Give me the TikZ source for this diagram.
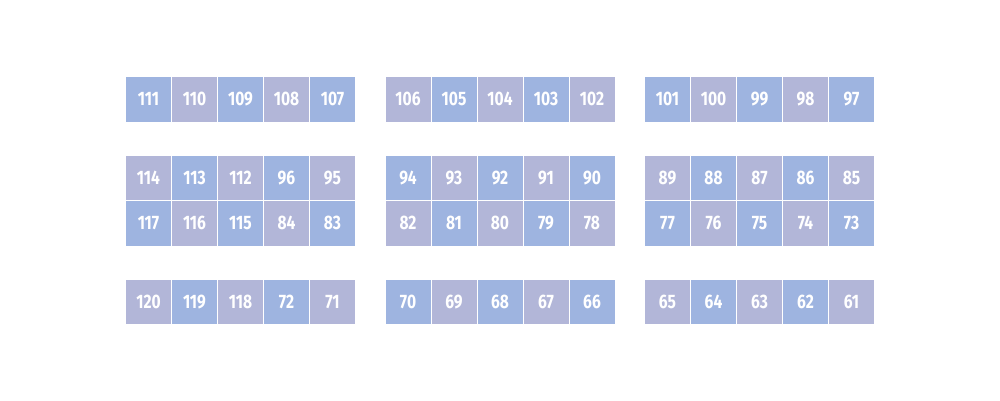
\documentclass[tikz,border=0pt]{standalone}
\usepackage{fontspec}
\setmainfont{Fira Sans}[FakeStretch=0.8]
\definecolor{seatblue}{RGB}{158,180,224}
\definecolor{seatlilac}{RGB}{178,182,216}

\begin{document}
\begin{tikzpicture}[
    x=1pt, y=-1pt,
    seat/.style={
        draw=white, line width=0.8pt, anchor=north west, outer sep=0pt,
        minimum width=46pt, minimum height=45.5pt, inner sep=0pt,
        text=white, font=\fontsize{19.5}{19.5}\selectfont\bfseries
    }
]

% canvas
\useasboundingbox[fill=white] (0,0) rectangle (1000,400);

% seat rows, three blocks of five per row
\foreach \row/\ytop/\seats in {
    0/76.5/{111,110,109,108,107,106,105,104,103,102,101,100,99,98,97},
    1/155/{114,113,112,96,95,94,93,92,91,90,89,88,87,86,85},
    2/200.5/{117,116,115,84,83,82,81,80,79,78,77,76,75,74,73},
    3/279/{120,119,118,72,71,70,69,68,67,66,65,64,63,62,61}}{
    \foreach \n [count=\c from 0] in \seats {
        \pgfmathsetmacro{\xleft}{125.5 + 46*mod(\c,5) + 259.5*floor(\c/5)}
        \pgfmathtruncatemacro{\odd}{mod(\row+\c,2)}
        \ifnum\odd=0 \def\seatcol{seatblue}\else \def\seatcol{seatlilac}\fi
        \node[seat, fill=\seatcol] (s\n) at (\xleft,\ytop) {\n};
    }
}

\end{tikzpicture}
\end{document}
